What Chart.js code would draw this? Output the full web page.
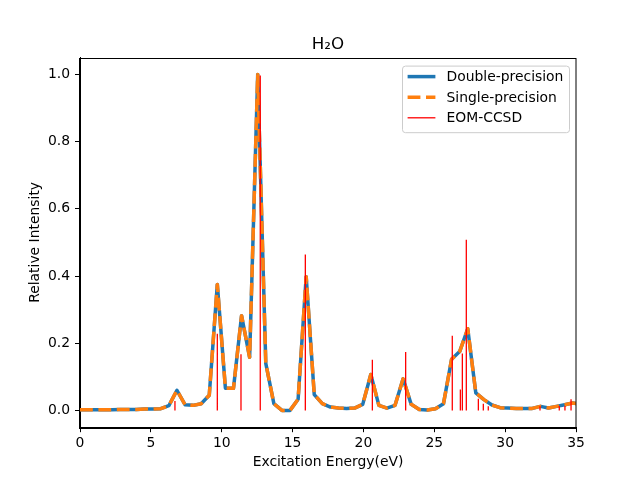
<!DOCTYPE html>
<html>
<head>
<meta charset="utf-8">
<title>H2O</title>
<script src="https://cdn.jsdelivr.net/npm/chart.js@4.4.1/dist/chart.umd.min.js"></script>
<style>
  body { margin: 0; background: #fff; }
  #wrap { width: 640px; height: 480px; }
</style>
</head>
<body>
<div id="wrap"><canvas id="grafico" width="640" height="480"></canvas></div>
<script>
// Datos
const energias = [
  0.00, 0.57, 1.14, 1.71, 2.28, 2.85, 3.42, 3.99, 4.56, 5.13,
  5.70, 6.27, 6.84, 7.41, 7.98, 8.55, 9.12, 9.69, 10.26, 10.83,
  11.40, 11.97, 12.54, 13.11, 13.68, 14.25, 14.82, 15.39, 15.96, 16.53,
  17.10, 17.67, 18.24, 18.81, 19.38, 19.95, 20.52, 21.09, 21.66, 22.23,
  22.80, 23.37, 23.94, 24.51, 25.08, 25.65, 26.22, 26.79, 27.36, 27.93,
  28.50, 29.07, 29.64, 30.21, 30.78, 31.35, 31.92, 32.49, 33.06, 33.63,
  34.20, 34.77, 35.34
];
const dobleIntensidad = [
  0.002, 0.002, 0.002, 0.002, 0.002, 0.003, 0.003, 0.003, 0.004, 0.004,
  0.005, 0.014, 0.060, 0.017, 0.015, 0.020, 0.045, 0.375, 0.066, 0.066,
  0.282, 0.158, 1.000, 0.140, 0.020, 0.000, 0.000, 0.033, 0.398, 0.047,
  0.020, 0.010, 0.007, 0.006, 0.007, 0.018, 0.107, 0.015, 0.007, 0.015,
  0.094, 0.018, 0.003, 0.001, 0.005, 0.020, 0.152, 0.175, 0.243, 0.052,
  0.032, 0.016, 0.008, 0.007, 0.006, 0.006, 0.006, 0.012, 0.007, 0.012,
  0.017, 0.022, 0.018
];
const simpleIntensidad = [
  0.002, 0.002, 0.002, 0.002, 0.002, 0.003, 0.003, 0.003, 0.004, 0.004,
  0.005, 0.014, 0.060, 0.017, 0.015, 0.020, 0.045, 0.375, 0.066, 0.066,
  0.282, 0.158, 1.000, 0.140, 0.020, 0.000, 0.000, 0.033, 0.398, 0.047,
  0.020, 0.010, 0.007, 0.006, 0.007, 0.018, 0.107, 0.015, 0.007, 0.015,
  0.094, 0.018, 0.003, 0.001, 0.005, 0.020, 0.152, 0.175, 0.243, 0.052,
  0.032, 0.016, 0.008, 0.007, 0.006, 0.006, 0.006, 0.012, 0.007, 0.012,
  0.017, 0.022, 0.018
];
const eomEnergias = [6.70, 9.69, 11.36, 12.72, 15.90, 20.63, 22.98, 26.27, 26.84, 26.98,
  27.26, 28.11, 28.46, 28.81, 32.46, 33.82, 34.22, 34.65];
const eomIntensidad = [0.028, 0.228, 0.167, 0.997, 0.464, 0.151, 0.174, 0.222, 0.062, 0.169,
  0.508, 0.035, 0.020, 0.012, 0.012, 0.013, 0.013, 0.033];
const xTicks = [0, 5, 10, 15, 20, 25, 30, 35];
const yTicks = [0.0, 0.2, 0.4, 0.6, 0.8, 1.0];

const fuente = "'DejaVu Sans', sans-serif";

function puntos(xs, ys) {
  return xs.map((x, i) => ({ x: x, y: ys[i] }));
}

// barras verticales: (x,0) -> (x,h) separadas con null
function barras(xs, hs) {
  const out = [];
  xs.forEach((x, i) => {
    out.push({ x: x, y: 0 });
    out.push({ x: x, y: hs[i] });
    out.push({ x: x, y: null });
  });
  return out;
}

// marco, título y leyenda al estilo matplotlib
const extras = {
  id: 'extras',
  afterDraw(chart) {
    const ctx = chart.ctx;
    const a = chart.chartArea;
    ctx.save();
    ctx.strokeStyle = '#000';
    ctx.lineWidth = 1;
    ctx.strokeRect(Math.round(a.left) - 0.5, Math.round(a.top) + 0.5,
      Math.round(a.right - a.left) + 0.5, Math.round(a.bottom - a.top));

    ctx.fillStyle = '#000';
    ctx.font = "16.7px " + fuente;
    ctx.textAlign = 'center';
    ctx.textBaseline = 'alphabetic';
    ctx.fillText('H\u2082O', (a.left + a.right) / 2, a.top - 8.5);

    // leyenda
    const sets = chart.data.datasets;
    ctx.font = "13.9px " + fuente;
    let maxW = 0;
    sets.forEach(d => { maxW = Math.max(maxW, ctx.measureText(d.label).width); });
    const w = 5.6 + 27.8 + 11.1 + maxW + 5.6;
    const h = 66.6;
    const x0 = a.right - 7 - w;
    const y0 = a.top + 8;
    ctx.beginPath();
    ctx.roundRect(x0 + 0.5, y0 + 0.5, w, h, 3);
    ctx.fillStyle = 'rgba(255,255,255,0.8)';
    ctx.fill();
    ctx.strokeStyle = '#cccccc';
    ctx.stroke();
    sets.forEach((d, i) => {
      const yy = y0 + 11 + i * 20.6;
      ctx.beginPath();
      ctx.strokeStyle = d.borderColor;
      ctx.lineWidth = d.borderWidth;
      ctx.setLineDash(d.borderDash || []);
      ctx.moveTo(x0 + 5.6, yy);
      ctx.lineTo(x0 + 5.6 + 27.8, yy);
      ctx.stroke();
      ctx.setLineDash([]);
      ctx.fillStyle = '#000';
      ctx.textAlign = 'left';
      ctx.textBaseline = 'middle';
      ctx.fillText(d.label, x0 + 5.6 + 27.8 + 11.1, yy + 1);
    });
    ctx.restore();
  }
};

new Chart(document.getElementById('grafico'), {
  type: 'line',
  data: {
    datasets: [
      {
        label: 'Double-precision',
        data: puntos(energias, dobleIntensidad),
        borderColor: '#1f77b4',
        borderWidth: 3.5,
        borderJoinStyle: 'round',
        pointRadius: 0,
        tension: 0,
        order: 3
      },
      {
        label: 'Single-precision',
        data: puntos(energias, simpleIntensidad),
        borderColor: '#ff7f0e',
        borderWidth: 3.5,
        borderDash: [12.8, 5.6],
        borderJoinStyle: 'round',
        pointRadius: 0,
        tension: 0,
        order: 2
      },
      {
        label: 'EOM-CCSD',
        data: barras(eomEnergias, eomIntensidad),
        borderColor: '#ff0000',
        borderWidth: 1.3,
        pointRadius: 0,
        spanGaps: false,
        order: 1
      }
    ]
  },
  options: {
    responsive: false,
    devicePixelRatio: 1,
    animation: false,
    layout: { padding: { left: 0, right: 64, top: 57.6, bottom: 0 } },
    plugins: {
      legend: { display: false },
      title: { display: false },
      tooltip: { enabled: false }
    },
    scales: {
      x: {
        type: 'linear',
        min: 0,
        max: 35,
        afterFit(s) { s.height = 52.8; },
        afterBuildTicks(s) { s.ticks = xTicks.map(v => ({ value: v })); },
        grid: { drawOnChartArea: false, drawTicks: true, tickLength: 5, tickColor: '#000', tickWidth: 1 },
        border: { display: true, color: '#000', width: 1 },
        ticks: {
          color: '#000',
          padding: 3,
          maxRotation: 0,
          font: { family: fuente, size: 13.9 },
          callback: v => String(v)
        },
        title: {
          display: true,
          text: 'Excitation Energy(eV)',
          color: '#000',
          font: { family: fuente, size: 13.9 },
          padding: { top: 0, bottom: 9.7 }
        }
      },
      y: {
        type: 'linear',
        min: -0.05,
        max: 1.05,
        afterFit(s) { s.width = 80; },
        afterBuildTicks(s) { s.ticks = yTicks.map(v => ({ value: v })); },
        grid: { drawOnChartArea: false, drawTicks: true, tickLength: 5, tickColor: '#000', tickWidth: 1 },
        border: { display: true, color: '#000', width: 1 },
        ticks: {
          color: '#000',
          padding: 5,
          font: { family: fuente, size: 13.9 },
          callback: v => v.toFixed(1)
        },
        title: {
          display: true,
          text: 'Relative Intensity',
          color: '#000',
          font: { family: fuente, size: 13.9 },
          padding: { top: 26.7, bottom: 0 }
        }
      }
    }
  },
  plugins: [extras]
});
</script>
</body>
</html>
